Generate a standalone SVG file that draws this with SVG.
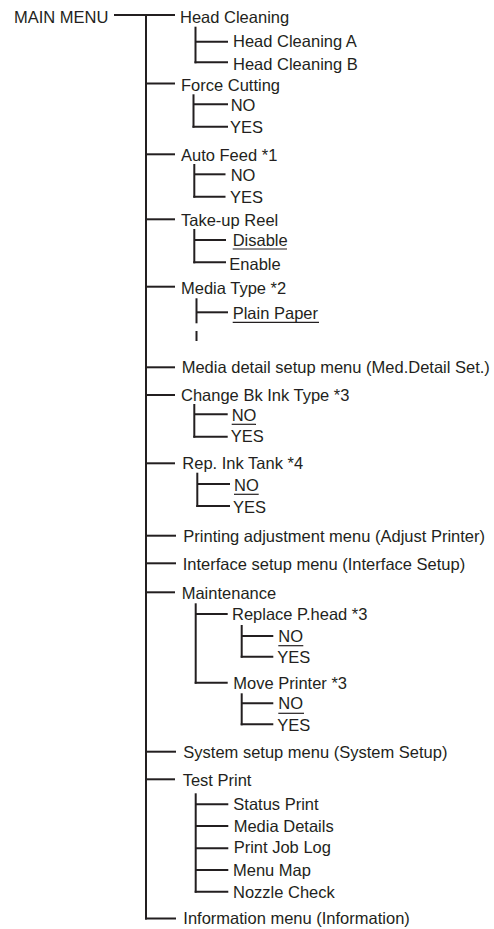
<svg xmlns="http://www.w3.org/2000/svg" width="494" height="929" viewBox="0 0 494 929">
<style>
text{font-family:"Liberation Sans",Arial,Helvetica,sans-serif;font-size:16.5px;fill:#231f20}
.c line{stroke:#231f20;stroke-width:2;stroke-linecap:butt}
.u{stroke:#231f20;stroke-width:1.2}
</style>
<rect width="494" height="929" fill="#fff"/>
<g class="c" id="connectors">
<line x1="114" y1="15" x2="175" y2="15"/>
<line x1="146" y1="14" x2="146" y2="919.5"/>
<line x1="146" y1="83.5" x2="175" y2="83.5"/>
<line x1="146" y1="154.3" x2="175" y2="154.3"/>
<line x1="146" y1="219.3" x2="175" y2="219.3"/>
<line x1="146" y1="286.7" x2="175" y2="286.7"/>
<line x1="146" y1="367.3" x2="175" y2="367.3"/>
<line x1="146" y1="395" x2="175" y2="395"/>
<line x1="146" y1="463.3" x2="175" y2="463.3"/>
<line x1="146" y1="535.7" x2="176" y2="535.7"/>
<line x1="146" y1="563.3" x2="176" y2="563.3"/>
<line x1="146" y1="592.3" x2="175" y2="592.3"/>
<line x1="146" y1="751.7" x2="176" y2="751.7"/>
<line x1="146" y1="779.3" x2="175" y2="779.3"/>
<line x1="145" y1="918.5" x2="176" y2="918.5"/>
<!-- Head Cleaning -->
<line x1="195.5" y1="26.7" x2="195.5" y2="63.3"/>
<line x1="195.5" y1="41.7" x2="228" y2="41.7"/>
<line x1="194.5" y1="62.3" x2="228" y2="62.3"/>
<!-- Force Cutting -->
<line x1="193.5" y1="94.3" x2="193.5" y2="127.7"/>
<line x1="193.5" y1="104.3" x2="228" y2="104.3"/>
<line x1="192.5" y1="126.7" x2="228" y2="126.7"/>
<!-- Auto Feed -->
<line x1="194.3" y1="164" x2="194.3" y2="197.7"/>
<line x1="194.3" y1="174.3" x2="225.5" y2="174.3"/>
<line x1="193.3" y1="196.7" x2="225.5" y2="196.7"/>
<!-- Take-up Reel -->
<line x1="194.3" y1="229" x2="194.3" y2="263.3"/>
<line x1="194.3" y1="240" x2="226" y2="240"/>
<line x1="193.3" y1="262.3" x2="226" y2="262.3"/>
<!-- Media Type -->
<line x1="196.5" y1="298.3" x2="196.5" y2="323.3"/>
<line x1="196.5" y1="331" x2="196.5" y2="341"/>
<line x1="196.5" y1="312.3" x2="228" y2="312.3"/>
<!-- Change Bk -->
<line x1="194.3" y1="404" x2="194.3" y2="437.7"/>
<line x1="194.3" y1="414.3" x2="227.7" y2="414.3"/>
<line x1="193.3" y1="436.7" x2="227.7" y2="436.7"/>
<!-- Rep Ink -->
<line x1="197.3" y1="472.7" x2="197.3" y2="507"/>
<line x1="197.3" y1="484" x2="230" y2="484"/>
<line x1="196.3" y1="506" x2="230" y2="506"/>
<!-- Maintenance -->
<line x1="195.7" y1="603.3" x2="195.7" y2="683.7"/>
<line x1="195.7" y1="614" x2="227.7" y2="614"/>
<line x1="194.7" y1="682.7" x2="227.7" y2="682.7"/>
<line x1="241.7" y1="625" x2="241.7" y2="657.7"/>
<line x1="241.7" y1="636" x2="273.3" y2="636"/>
<line x1="240.7" y1="656.7" x2="273.3" y2="656.7"/>
<line x1="241.7" y1="693.3" x2="241.7" y2="725.3"/>
<line x1="241.7" y1="703.3" x2="273.3" y2="703.3"/>
<line x1="240.7" y1="724.3" x2="273.3" y2="724.3"/>
<!-- Test Print -->
<line x1="195.7" y1="793.3" x2="195.7" y2="892.7"/>
<line x1="195.7" y1="804.3" x2="228.3" y2="804.3"/>
<line x1="195.7" y1="826" x2="228.3" y2="826"/>
<line x1="195.7" y1="848.3" x2="228.3" y2="848.3"/>
<line x1="195.7" y1="870" x2="228.3" y2="870"/>
<line x1="194.7" y1="891.7" x2="228.3" y2="891.7"/>
</g>
<g id="main"><text x="14" y="23.3">MAIN MENU</text></g>
<g id="head-cleaning"><text x="180" y="22.7">Head Cleaning</text></g>
<g id="head-cleaning-a"><text x="233" y="47.3">Head Cleaning A</text></g>
<g id="head-cleaning-b"><text x="233" y="69.5">Head Cleaning B</text></g>
<g id="force-cutting"><text x="181" y="90.7">Force Cutting</text></g>
<g id="fc-no"><text x="230.7" y="110.7">NO</text></g>
<g id="fc-yes"><text x="230" y="133.3">YES</text></g>
<g id="auto-feed"><text x="181" y="160.5">Auto Feed *1</text></g>
<g id="af-no"><text x="230.7" y="181">NO</text></g>
<g id="af-yes"><text x="230" y="203.3">YES</text></g>
<g id="take-up-reel"><text x="181" y="225.7">Take-up Reel</text></g>
<g id="tr-disable"><text x="232.7" y="246.3">Disable</text><line class="u" x1="232.7" y1="249" x2="287" y2="249"/></g>
<g id="tr-enable"><text x="229.3" y="269.5">Enable</text></g>
<g id="media-type"><text x="181" y="294">Media Type *2</text></g>
<g id="plain-paper"><text x="232.7" y="318.5">Plain Paper</text><line class="u" x1="232.7" y1="322.3" x2="319" y2="322.3"/></g>
<g id="media-detail"><text x="181.7" y="373.3">Media detail setup menu (Med.Detail Set.)</text></g>
<g id="change-bk"><text x="181" y="400.7">Change Bk Ink Type *3</text></g>
<g id="cb-no"><text x="231.7" y="420.7">NO</text><line class="u" x1="231.7" y1="424.3" x2="256" y2="424.3"/></g>
<g id="cb-yes"><text x="230.7" y="442.3">YES</text></g>
<g id="rep-ink"><text x="182.3" y="468.8">Rep. Ink Tank *4</text></g>
<g id="ri-no"><text x="234" y="491">NO</text><line class="u" x1="234" y1="494.3" x2="258.7" y2="494.3"/></g>
<g id="ri-yes"><text x="233" y="512.5">YES</text></g>
<g id="printing-adj"><text x="183.3" y="542.3">Printing adjustment menu (Adjust Printer)</text></g>
<g id="interface"><text x="182.7" y="570.3">Interface setup menu (Interface Setup)</text></g>
<g id="maintenance"><text x="181.7" y="599.3">Maintenance</text></g>
<g id="replace-phead"><text x="232" y="620">Replace P.head *3</text></g>
<g id="rp-no"><text x="278.3" y="641.7">NO</text><line class="u" x1="278.3" y1="645.7" x2="303.3" y2="645.7"/></g>
<g id="rp-yes"><text x="277.3" y="662.5">YES</text></g>
<g id="move-printer"><text x="233.3" y="689">Move Printer *3</text></g>
<g id="mp-no"><text x="278.3" y="709">NO</text><line class="u" x1="278.3" y1="713.3" x2="304" y2="713.3"/></g>
<g id="mp-yes"><text x="277.3" y="730.5">YES</text></g>
<g id="system-setup"><text x="183.3" y="758.3">System setup menu (System Setup)</text></g>
<g id="test-print"><text x="182.7" y="786.3">Test Print</text></g>
<g id="status-print"><text x="233.3" y="810">Status Print</text></g>
<g id="media-details"><text x="233.7" y="831.7">Media Details</text></g>
<g id="print-job-log"><text x="233.7" y="853.3">Print Job Log</text></g>
<g id="menu-map"><text x="233" y="875.5">Menu Map</text></g>
<g id="nozzle-check"><text x="233" y="897.5">Nozzle Check</text></g>
<g id="information"><text x="183.3" y="923.8">Information menu (Information)</text></g>
</svg>
